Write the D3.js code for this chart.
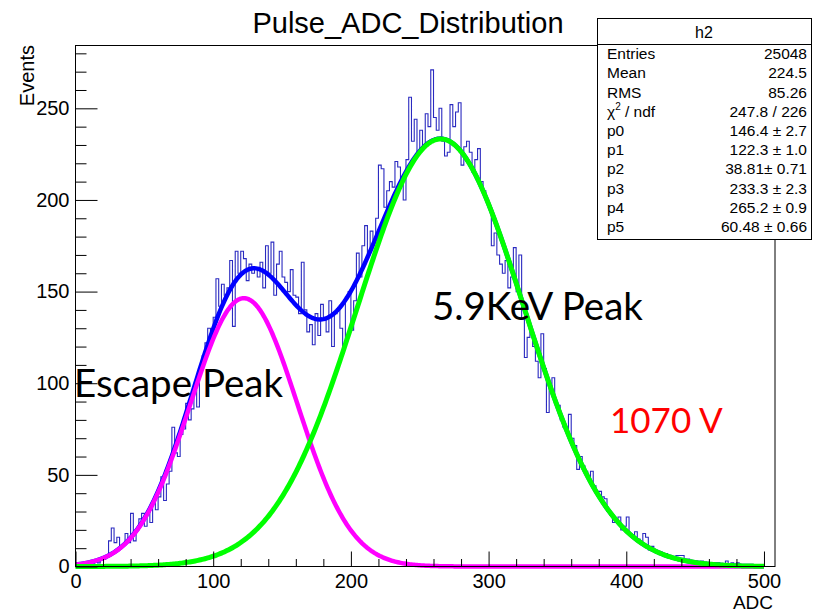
<!DOCTYPE html>
<html>
<head>
<meta charset="utf-8">
<script src="https://cdn.jsdelivr.net/npm/d3@7"></script>
<style>
  body { margin: 0; background: #fff; }
  text { font-family: "Liberation Sans", Arial, sans-serif; }
  text.note { font-family: Lato, "Open Sans", sans-serif; }
</style>
</head>
<body>
<script>
// histogram h2 : 254 bins of width 2 ADC, from 0 to 508
var binWidth = 2;
var counts = [
    0,1,0,2,1,        2,1,3,2,4,        4,5,14,21,13,     16,10,12,18,13,
    29,14,20,26,29,   22,30,24,36,31,   38,49,36,45,52,   76,62,60,72,75,
    89,80,86,96,87,   108,115,122,130,128, 136,157,142,154,148, 152,167,131,172,160,
    172,168,156,165,160, 163,158,166,152,175, 160,177,148,165,172, 158,155,150,162,148,
    147,138,166,140,128, 132,121,138,126,143, 135,128,145,120,138, 140,130,120,147,150,
    129,145,171,158,175, 186,170,183,178,190, 219,217,196,205,210, 207,221,218,212,200,
    222,256,232,244,226, 238,229,247,240,271, 245,238,250,232,224, 226,252,240,248,253,
    219,229,232,226,215, 222,228,210,205,200, 196,175,182,170,165, 160,167,152,158,174,
    150,170,135,114,125, 128,120,112,103,127, 108,84,97,103,90,  88,80,76,74,83,
    70,66,53,60,55,   52,48,52,44,41,   41,38,37,30,28,   24,24,27,20,22,
    27,18,17,19,15,   13,18,16,9,11,    9,8,8,6,7,        5,5,4,6,6,
    6,3,4,3,2,        3,2,3,1,2,        2,1,2,2,1,        1,3,1,2,1,
    2,0,1,1,0,        1,0,1,0,0,        0,0,0,0
];

// fit: gaus(p0,p1,p2) + gaus(p3,p4,p5), range 0-500
var parNames  = ["p0", "p1", "p2", "p3", "p4", "p5"];
var parValues = [146.4, 122.3, 38.81, 233.3, 265.2, 60.48];
var parText   = ["146.4 \u00b1 2.7", "122.3 \u00b1 1.0", "38.81\u00b1 0.71",
                 "233.3 \u00b1 2.3", "265.2 \u00b1 0.9", "60.48 \u00b1 0.66"];
var fitRange  = [0, 500];

var statNames  = ["Entries", "Mean", "RMS"];
var statValues = ["25048", "224.5", "85.26"];
var chi2Text   = "247.8 / 226";

var xTicks = [0, 100, 200, 300, 400, 500];
var yTicks = [0, 50, 100, 150, 200, 250];

var labels = ["Escape Peak", "5.9KeV Peak", "1070 V"];

function init(){
    var w = 814;
    var h = 613;

    var svg = d3.select("body")
                .append("svg")
                .attr("width", w)
                .attr("height", h);

    var x = d3.scaleLinear()
                .domain([0, counts.length * binWidth])
                .range([75.5, 775]);
    var y = d3.scaleLinear()
                .domain([0, 284])
                .range([566.5, 46]);

    // histogram outline (ROOT style steps)
    var pts = [[0, 0]];
    counts.forEach(function(c, i){ pts.push([i * binWidth, c]); });
    pts.push([counts.length * binWidth, counts[counts.length - 1]]);
    pts.push([counts.length * binWidth, 0]);

    var histLine = d3.line()
                .x(function(d){ return x(d[0]); })
                .y(function(d){ return y(d[1]); })
                .curve(d3.curveStepAfter);

    svg.append("path")
        .attr("d", histLine(pts))
        .attr("fill", "none")
        .attr("stroke", "#2a2ac0")
        .attr("stroke-width", 1.1);

    // fit functions
    function gaus(a, m, s){
        return function(v){ return a * Math.exp(-0.5 * Math.pow((v - m) / s, 2)); };
    }
    var g1 = gaus(parValues[0], parValues[1], parValues[2]);
    var g2 = gaus(parValues[3], parValues[4], parValues[5]);
    var xs = d3.range(fitRange[0], fitRange[1] + 1, 1);

    var fitLine = d3.line()
                .x(function(d){ return x(d[0]); })
                .y(function(d){ return y(d[1]); });

    var curves = [
        { f: function(v){ return g1(v) + g2(v); }, color: "#0000ff", width: 4.5 },
        { f: g1, color: "#ff00ff", width: 4.5 },
        { f: g2, color: "#00ff00", width: 5 }
    ];
    curves.forEach(function(c){
        svg.append("path")
            .attr("d", fitLine(xs.map(function(v){ return [v, c.f(v)]; })))
            .attr("fill", "none")
            .attr("stroke", c.color)
            .attr("stroke-width", c.width)
            .attr("stroke-linejoin", "round");
    });

    // axes: major + minor ticks pointing into the frame
    var xMajor = d3.axisBottom(x).tickValues(xTicks).tickSize(-15).tickPadding(7);
    var xMinor = d3.axisBottom(x)
                .tickValues(d3.range(0, 501, 20).filter(function(v){ return v % 100; }))
                .tickSize(-7.5).tickFormat("");
    var yMajor = d3.axisLeft(y).tickValues(yTicks).tickSize(-22).tickPadding(6);
    var yMinor = d3.axisLeft(y)
                .tickValues(d3.range(0, 281, 10).filter(function(v){ return v % 50; }))
                .tickSize(-11).tickFormat("");

    [xMajor, xMinor].forEach(function(a){
        svg.append("g").attr("transform", "translate(0,566.5)").call(a);
    });
    [yMajor, yMinor].forEach(function(a){
        svg.append("g").attr("transform", "translate(75.5,0)").call(a);
    });
    svg.selectAll(".domain").remove();
    svg.selectAll(".tick line").attr("stroke", "#000");
    svg.selectAll(".tick text")
        .attr("font-family", "Liberation Sans, Arial, sans-serif")
        .attr("font-size", 20)
        .attr("fill", "#000");

    // frame
    svg.append("rect")
        .attr("x", 75.5).attr("y", 45.5)
        .attr("width", 775 - 75.5).attr("height", 566.5 - 45.5)
        .attr("fill", "none").attr("stroke", "#000");

    // axis titles
    svg.append("text")
        .attr("x", 773).attr("y", 609)
        .attr("text-anchor", "end")
        .attr("font-size", 19)
        .text("ADC");
    svg.append("text")
        .attr("transform", "translate(34,45) rotate(-90)")
        .attr("text-anchor", "end")
        .attr("font-size", 20)
        .text("Events");

    // title
    svg.append("text")
        .attr("x", 408).attr("y", 33)
        .attr("text-anchor", "middle")
        .attr("font-size", 29)
        .text("Pulse_ADC_Distribution");

    // stats box
    var bx = 597, by = 18, bw = 214, hh = 26, rh = 19.2;
    var nRows = statNames.length + 1 + parNames.length;
    var box = svg.append("g");
    box.append("rect")
        .attr("x", bx + 0.5).attr("y", by + 0.5)
        .attr("width", bw).attr("height", hh + rh * nRows + 3)
        .attr("fill", "#fff").attr("stroke", "#000");
    box.append("line")
        .attr("x1", bx).attr("x2", bx + bw)
        .attr("y1", by + hh + 0.5).attr("y2", by + hh + 0.5)
        .attr("stroke", "#000");
    box.append("text")
        .attr("x", bx + bw / 2).attr("y", by + hh - 6)
        .attr("text-anchor", "middle")
        .attr("font-size", 16)
        .text("h2");

    var leftCol = statNames.slice();
    var rightCol = statValues.slice();
    leftCol.push("chi2");
    rightCol.push(chi2Text);
    parNames.forEach(function(p, i){ leftCol.push(p); rightCol.push(parText[i]); });

    leftCol.forEach(function(name, i){
        var ty = by + hh + rh * (i + 1) - 4;
        var t = box.append("text")
            .attr("x", bx + 10).attr("y", ty)
            .attr("font-size", 15.5);
        if (name == "chi2"){
            t.append("tspan").text("\u03c7");
            t.append("tspan").attr("font-size", 10).attr("dy", -7).text("2");
            t.append("tspan").attr("dy", 7).text(" / ndf");
        } else {
            t.text(name);
        }
        box.append("text")
            .attr("x", bx + bw - 4).attr("y", ty)
            .attr("text-anchor", "end")
            .attr("font-size", 15.5)
            .text(rightCol[i]);
    });

    // annotations
    svg.append("text").attr("class", "note")
        .attr("x", 74).attr("y", 397)
        .attr("font-size", 38.5).text(labels[0]);
    svg.append("text").attr("class", "note")
        .attr("x", 432).attr("y", 320)
        .attr("font-size", 38.5).text(labels[1]);
    svg.append("text").attr("class", "note")
        .attr("x", 610).attr("y", 433)
        .attr("font-size", 35)
        .attr("fill", "#ff0000").text(labels[2]);
}
window.onload = init;
</script>
</body>
</html>
